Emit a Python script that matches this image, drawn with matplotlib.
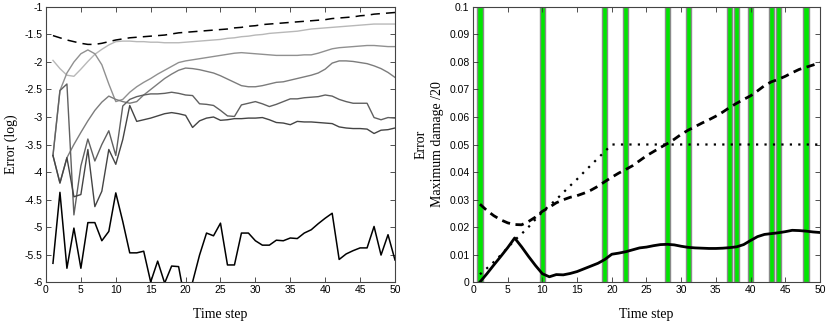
import numpy as np
import matplotlib
matplotlib.use("Agg")
import matplotlib.pyplot as plt
from matplotlib.ticker import FuncFormatter

steps = np.arange(1, 51)

# --- left panel: log error per run ---
err_dashed = [-1.52, -1.56, -1.60, -1.63, -1.66, -1.68, -1.68, -1.66, -1.63, -1.60,
              -1.58, -1.56, -1.55, -1.54, -1.53, -1.52, -1.51, -1.49, -1.47, -1.46,
              -1.45, -1.44, -1.43, -1.42, -1.41, -1.40, -1.38, -1.37, -1.35, -1.34,
              -1.32, -1.31, -1.30, -1.29, -1.28, -1.27, -1.26, -1.25, -1.24, -1.23,
              -1.21, -1.20, -1.19, -1.18, -1.16, -1.15, -1.13, -1.12, -1.11, -1.10]
err_a = [-1.97, -2.12, -2.24, -2.26, -2.13, -1.99, -1.86, -1.77, -1.69, -1.63,
         -1.62, -1.62, -1.63, -1.63, -1.64, -1.64, -1.65, -1.65, -1.65, -1.64,
         -1.63, -1.62, -1.61, -1.60, -1.59, -1.57, -1.56, -1.54, -1.53, -1.51,
         -1.50, -1.48, -1.47, -1.46, -1.45, -1.44, -1.42, -1.40, -1.39, -1.38,
         -1.37, -1.36, -1.35, -1.34, -1.33, -1.32, -1.31, -1.31, -1.31, -1.31]
err_b = [-3.70, -2.52, -2.20, -2.00, -1.85, -1.78, -1.85, -2.05, -2.40, -2.72,
         -2.68, -2.55, -2.45, -2.37, -2.30, -2.22, -2.15, -2.08, -2.01, -1.98,
         -1.96, -1.94, -1.92, -1.90, -1.88, -1.86, -1.84, -1.83, -1.84, -1.85,
         -1.86, -1.87, -1.88, -1.88, -1.88, -1.88, -1.87, -1.87, -1.84, -1.80,
         -1.76, -1.74, -1.73, -1.72, -1.71, -1.70, -1.70, -1.71, -1.72, -1.72]
err_c = [-3.70, -4.20, -3.74, -3.50, -3.28, -3.07, -2.88, -2.73, -2.62, -2.68,
         -2.72, -2.75, -2.72, -2.60, -2.50, -2.40, -2.30, -2.22, -2.15, -2.11,
         -2.12, -2.14, -2.17, -2.20, -2.25, -2.31, -2.37, -2.43, -2.45, -2.45,
         -2.43, -2.40, -2.37, -2.36, -2.33, -2.30, -2.27, -2.24, -2.20, -2.13,
         -2.02, -1.98, -1.98, -1.99, -2.01, -2.03, -2.07, -2.12, -2.19, -2.28]
err_d = [-3.70, -2.52, -2.40, -4.78, -3.89, -3.40, -3.80, -3.50, -3.25, -3.70,
         -2.80, -2.68, -2.63, -2.60, -2.58, -2.58, -2.57, -2.55, -2.57, -2.60,
         -2.61, -2.76, -2.77, -2.79, -2.88, -2.98, -2.99, -2.78, -2.75, -2.72,
         -2.76, -2.81, -2.77, -2.72, -2.67, -2.67, -2.65, -2.64, -2.63, -2.60,
         -2.62, -2.68, -2.72, -2.75, -2.75, -2.75, -3.01, -3.05, -3.01, -3.02]
err_e = [-3.70, -4.20, -3.74, -4.45, -4.41, -3.59, -4.63, -4.35, -3.59, -3.86,
         -3.41, -2.79, -3.08, -3.05, -3.02, -2.98, -2.94, -2.92, -2.94, -2.97,
         -3.19, -3.07, -3.02, -3.00, -3.06, -3.05, -3.03, -3.03, -3.02, -3.02,
         -3.01, -3.05, -3.10, -3.11, -3.14, -3.08, -3.09, -3.09, -3.10, -3.11,
         -3.12, -3.18, -3.20, -3.21, -3.21, -3.22, -3.30, -3.24, -3.23, -3.20]
err_black = [-5.66, -4.37, -5.75, -5.02, -5.75, -4.92, -4.92, -5.25, -5.08, -4.38,
             -4.90, -5.47, -5.47, -5.44, -6.00, -5.62, -6.02, -5.71, -5.72, -6.40,
             -6.00, -5.51, -5.11, -5.16, -4.93, -5.69, -5.69, -5.11, -5.11, -5.25,
             -5.33, -5.33, -5.24, -5.25, -5.20, -5.21, -5.11, -5.05, -4.94, -4.84,
             -4.75, -5.59, -5.49, -5.43, -5.38, -5.38, -4.99, -5.51, -5.14, -5.60]

# --- right panel: max damage / 20 ---
dmg_dashed = [0.0283, 0.0260, 0.0241, 0.0226, 0.0215, 0.0209, 0.0208, 0.0220, 0.0236, 0.0257,
              0.0272, 0.0288, 0.0299, 0.0308, 0.0314, 0.0323, 0.0334, 0.0348, 0.0365, 0.0381,
              0.0396, 0.0409, 0.0423, 0.0441, 0.0459, 0.0474, 0.0489, 0.0503, 0.0519, 0.0537,
              0.0552, 0.0565, 0.0578, 0.0590, 0.0603, 0.0618, 0.0635, 0.0650, 0.0664, 0.0677,
              0.0695, 0.0714, 0.0728, 0.0737, 0.0748, 0.0761, 0.0773, 0.0781, 0.0789, 0.0798]
dmg_dotted = [0.0028, 0.0050, 0.0073, 0.0098, 0.0125, 0.0152, 0.0175, 0.0200, 0.0228, 0.0255,
              0.0278, 0.0300, 0.0325, 0.0350, 0.0374, 0.0400, 0.0425, 0.0450, 0.0475, 0.0500] + [0.05] * 30
dmg_solid = [0.0000, 0.0030, 0.0062, 0.0093, 0.0125, 0.0160, 0.0128, 0.0093, 0.0060, 0.0030,
             0.0019, 0.0027, 0.0026, 0.0031, 0.0038, 0.0048, 0.0058, 0.0068, 0.0082, 0.0101,
             0.0105, 0.0110, 0.0117, 0.0124, 0.0127, 0.0132, 0.0136, 0.0137, 0.0135, 0.0130,
             0.0126, 0.0124, 0.0123, 0.0122, 0.0122, 0.0123, 0.0125, 0.0128, 0.0136, 0.0151,
             0.0165, 0.0173, 0.0176, 0.0179, 0.0183, 0.0188, 0.0187, 0.0185, 0.0182, 0.0180]
event_steps = [1, 10, 19, 22, 28, 31, 37, 38, 40, 43, 44, 48]

tick_font = {"family": "Liberation Sans", "size": 7.5}
label_font = {"family": "Liberation Serif", "size": 10}

fig = plt.figure(figsize=(8.3, 3.27), dpi=100)
ax1 = fig.add_axes([0.0554, 0.1376, 0.4205, 0.841])
ax2 = fig.add_axes([0.5699, 0.1376, 0.418, 0.841])

# left
for vals, c in [(err_a, "#b8b8b8"), (err_b, "#909090"), (err_c, "#7c7c7c"),
                (err_d, "#606060"), (err_e, "#444444")]:
    ax1.plot(steps, vals, color=c, lw=1.0)
ax1.plot(steps, err_black, color="black", lw=1.1)
ax1.plot(steps, err_dashed, color="black", lw=1.1, linestyle=(0, (6, 4)))
ax1.set_xlim(0, 50)
ax1.set_ylim(-6, -1)
ax1.set_xticks(np.arange(0, 51, 5))
ax1.set_yticks(np.arange(-6, -0.99, 0.5))
ax1.yaxis.set_major_formatter(FuncFormatter(lambda v, p: "%g" % v))
ax1.set_xlabel("Time step", fontdict=label_font, labelpad=9)
ax1.set_ylabel("Error (log)", fontdict=label_font, labelpad=5)

# right
ax2.bar(event_steps, [0.1] * len(event_steps), width=0.75, bottom=0,
        color="#00e600", edgecolor="#8a8a8a", linewidth=1.0, zorder=1)
ax2.plot(steps, dmg_dotted, color="black", lw=1.6, linestyle=(0, (1, 2.8)), zorder=3)
ax2.plot(steps, dmg_dashed, color="black", lw=2.0, linestyle=(0, (3, 2)), zorder=3)
ax2.plot(steps, dmg_solid, color="black", lw=2.0, zorder=3)
ax2.set_xlim(0, 50)
ax2.set_ylim(0, 0.1)
ax2.set_xticks(np.arange(0, 51, 5))
ax2.set_yticks(np.arange(0, 0.1001, 0.01))
ax2.yaxis.set_major_formatter(FuncFormatter(lambda v, p: "%g" % round(v, 2)))
ax2.set_xlabel("Time step", fontdict=label_font, labelpad=9)
ax2.set_ylabel("Error\nMaximum damage /20", fontdict=label_font, labelpad=4,
               linespacing=1.35)

for ax in (ax1, ax2):
    ax.tick_params(direction="in", top=True, right=True, length=3.5, width=0.6,
                   colors="#333333", labelcolor="black", pad=2.5)
    for lab in ax.get_xticklabels() + ax.get_yticklabels():
        lab.set_fontfamily(tick_font["family"])
        lab.set_fontsize(tick_font["size"])
    for s in ax.spines.values():
        s.set_linewidth(0.8)
        s.set_color("#444444")

fig.savefig("out.png", dpi=100)
